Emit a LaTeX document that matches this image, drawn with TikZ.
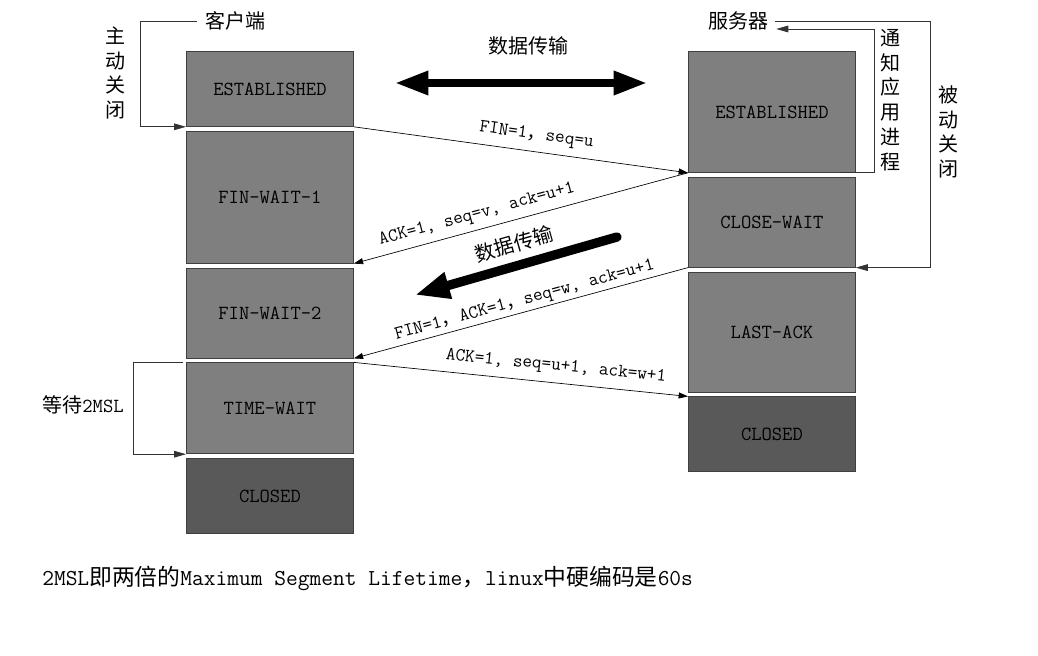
\documentclass[tikz,border=0pt]{standalone}
\usepackage{fontspec}
\newfontfamily\cjk{Noto Sans CJK SC}
\definecolor{tcpbox}{HTML}{7F7F7F}
\definecolor{tcpclosed}{HTML}{595959}
\definecolor{tcpedge}{HTML}{3F3F3F}
\usepackage{tikz}
\usetikzlibrary{positioning, arrows.meta, calc}

\begin{document}
\begin{tikzpicture}[x=0.75pt, y=-0.75pt, node distance=3pt,
    every node/.style={font=\ttfamily\fontsize{15}{18}\selectfont, inner sep=0pt},
    state/.style={draw=tcpedge, fill=tcpbox, minimum width=125.25pt, line width=0.6pt},
    msg/.style={-{Triangle[length=7pt, width=4.5pt]}, line width=0.5pt},
    loopline/.style={-{Triangle[length=9pt, width=5pt]}, draw=black!80, line width=0.6pt},
    cn/.style={font=\cjk\fontsize{15}{18.6}\selectfont, align=center},
    lbl/.style={font=\ttfamily\fontsize{14}{16}\selectfont, sloped},
    bigarrow/.style={line width=5.5pt, {Triangle[length=25pt, width=17pt]}-{Triangle[length=25pt, width=17pt]}}]
        \useasboundingbox (0,0) rectangle (1038,656);
        \node[state, minimum height=56.25pt, anchor=north west] (cest) at (186,51) {ESTABLISHED};
        \node[state, minimum height=99pt, below=of cest] (cfw1) {FIN-WAIT-1};
        \node[state, minimum height=67.5pt, below=of cfw1] (cfw2) {FIN-WAIT-2};
        \node[state, minimum height=68.25pt, below=of cfw2] (ctw) {TIME-WAIT};
        \node[state, fill=tcpclosed, minimum height=56.25pt, below=of ctw] (ccl) {CLOSED};
        \node[state, minimum height=90.75pt, anchor=north west] (sest) at (688,51) {ESTABLISHED};
        \node[state, minimum height=67.5pt, below=of sest] (scw) {CLOSE-WAIT};
        \node[state, minimum height=90pt, below=of scw] (sla) {LAST-ACK};
        \node[state, fill=tcpclosed, minimum height=56.25pt, below=of sla] (scl) {CLOSED};
        \node[cn] (cli) at (235,21) {客户端};
        \node[cn] (srv) at (738,21) {服务器};
        \node[cn] (data) at (528,46) {数据传输};
        \node[cn] (act) at (115,73) {主\\动\\关\\闭};
        \node[cn] (notify) at (890,100) {通\\知\\应\\用\\进\\程};
        \node[cn] (pas) at (948,132) {被\\动\\关\\闭};
        \node[cn] (wait) at (83,405) {等待{\ttfamily 2MSL}};
        \node[anchor=west, font=\ttfamily\fontsize{17.1}{20}\selectfont] (note) at (42,578) {2MSL{\cjk 即两倍的}Maximum Segment Lifetime{\cjk ，}linux{\cjk 中硬编码是}60s};
        \coordinate (dl) at (395,83);
        \coordinate (dr) at (647,83);
        \coordinate (ds) at (617,237);
        \coordinate (de) at (415,295);
        \draw[bigarrow] (dl) -- (dr);
        \draw[line width=7pt, line cap=round, -{Triangle[length=26pt, width=19pt]}] (ds) -- (de) node[cn, pos=0.48, sloped, above=6pt] {数据传输};
        \draw[msg] (cest.south east) -- (sest.south west) node[lbl, pos=0.54, above=6pt] {FIN=1{\cjk ，}seq=u};
        \draw[msg] (sest.south west) -- (cfw1.south east) node[lbl, pos=0.62, above=5pt] {ACK=1, seq=v, ack=u+1};
        \draw[msg] (scw.south west) -- (cfw2.south east) node[lbl, pos=0.48, above=2pt] {FIN=1{\cjk ，}ACK=1{\cjk ，}seq=w, ack=u+1};
        \draw[msg] (ctw.north east) -- (scl.north west) node[lbl, pos=0.6, above=6pt] {ACK=1, seq=u+1, ack=w+1};
        \draw[loopline] ([xshift=-6pt]cli.west) -- ++(-56,0) |- (cest.south west);
        \draw[loopline] ([xshift=-12pt]sest.south east) -- ++(35,0) |- ([xshift=6pt, yshift=-6pt]srv.east);
        \draw[loopline] ([xshift=5pt]srv.east) -- ++(155,0) |- (scw.south east);
        \draw[loopline] ([xshift=-2pt]ctw.north west) -- ++(-50,0) |- (ctw.south west);
      \end{tikzpicture}
\end{document}
